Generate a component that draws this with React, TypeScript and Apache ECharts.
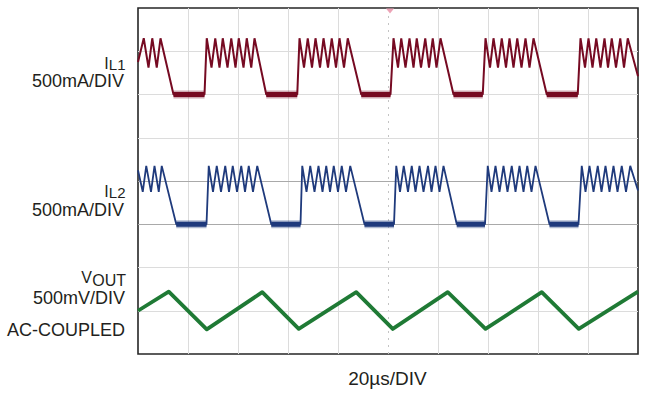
import React, { useEffect, useRef } from "react";
import * as echarts from "echarts";

// Time axis: 10 divisions of 20 µs; vertical axis: 8 screen divisions
const timeTicks = [0, 20, 40, 60, 80, 100, 120, 140, 160, 180, 200];
const divTicks = [0, 1, 2, 3, 4, 5, 6, 7, 8];
const centerTime = 100;
const darkDivLines = [3, 4];

// Zero-current levels of the two inductor traces (in screen divisions)
const il1Zero = 6.0;
const il2Zero = 3.0;

// I_L1 trace: [time µs, screen div]
const il1Points: [number, number][] = [
  [0.0, 6.75], [2.3, 7.3], [4.2, 6.62], [5.7, 7.3], [7.5, 6.62], [9.0, 7.3], [14.2, 6.0],
  [26.6, 6.0], [27.5, 7.3], [29.4, 6.62], [30.9, 7.3], [32.6, 6.62], [33.9, 7.3], [35.8, 6.62],
  [37.3, 7.3], [39.0, 6.62], [40.3, 7.3], [42.2, 6.62], [43.5, 7.3], [45.3, 6.62], [46.6, 7.3], [51.3, 6.0],
  [63.7, 6.0], [64.6, 7.3], [66.4, 6.62], [67.9, 7.3], [69.6, 6.62], [71.0, 7.3], [72.8, 6.62],
  [74.2, 7.3], [76.0, 6.62], [77.5, 7.3], [79.2, 6.62], [80.6, 7.3], [82.4, 6.62], [83.9, 7.3], [89.3, 6.0],
  [101.0, 6.0], [102.2, 7.3], [104.0, 6.62], [105.3, 7.3], [107.0, 6.62], [108.6, 7.3], [110.2, 6.62],
  [111.5, 7.3], [113.2, 6.62], [114.9, 7.3], [116.4, 6.62], [117.9, 7.3], [119.4, 6.62], [121.0, 7.3], [126.2, 6.0],
  [137.9, 6.0], [139.0, 7.3], [140.8, 6.62], [142.2, 7.3], [144.0, 6.62], [145.5, 7.3], [147.2, 6.62],
  [148.6, 7.3], [150.2, 6.62], [151.7, 7.3], [153.4, 6.62], [155.0, 7.3], [156.6, 6.62], [158.2, 7.3], [163.5, 6.0],
  [175.9, 6.0], [177.0, 7.3], [178.8, 6.62], [180.2, 7.3], [181.8, 6.62], [183.3, 7.3], [185.0, 6.62],
  [186.6, 7.3], [188.0, 6.62], [189.5, 7.3], [191.2, 6.62], [192.9, 7.3], [194.4, 6.62], [195.9, 7.3], [200.0, 6.42],
];

// I_L2 trace: [time µs, screen div]
const il2Points: [number, number][] = [
  [0.0, 4.25], [1.9, 3.75], [3.3, 4.35], [5.2, 3.75], [6.6, 4.35], [8.3, 3.75], [9.5, 4.35], [15.3, 3.0],
  [27.4, 3.0], [28.3, 4.35], [30.0, 3.75], [31.5, 4.35], [33.2, 3.75], [34.9, 4.35], [36.4, 3.75],
  [37.9, 4.35], [39.6, 3.75], [41.3, 4.35], [42.8, 3.75], [44.3, 4.35], [46.0, 3.75], [47.7, 4.35], [53.3, 3.0],
  [65.0, 3.0], [65.7, 4.35], [67.4, 3.75], [68.9, 4.35], [70.6, 3.75], [72.2, 4.35], [73.8, 3.75],
  [75.3, 4.35], [76.8, 3.75], [78.3, 4.35], [80.0, 3.75], [81.5, 4.35], [83.2, 3.75], [84.9, 4.35], [90.6, 3.0],
  [102.4, 3.0], [103.3, 4.35], [104.8, 3.75], [106.3, 4.35], [108.0, 3.75], [109.5, 4.35], [111.0, 3.75],
  [112.6, 4.35], [114.2, 3.75], [116.0, 4.35], [117.4, 3.75], [119.0, 4.35], [120.6, 3.75], [122.2, 4.35], [127.5, 3.0],
  [138.8, 3.0], [139.9, 4.35], [141.4, 3.75], [143.0, 4.35], [144.6, 3.75], [146.2, 4.35], [147.8, 3.75],
  [149.5, 4.35], [151.0, 3.75], [152.6, 4.35], [154.2, 3.75], [155.7, 4.35], [157.4, 3.75], [159.0, 4.35], [164.6, 3.0],
  [176.2, 3.0], [177.5, 4.35], [179.0, 3.75], [180.6, 4.35], [182.2, 3.75], [183.9, 4.35], [185.4, 3.75],
  [187.0, 4.35], [188.6, 3.75], [190.2, 4.35], [191.8, 3.75], [193.5, 4.35], [195.2, 3.75], [196.9, 4.35], [200.0, 3.78],
];

// V_OUT (AC-coupled) trace: [time µs, screen div]
const voutPoints: [number, number][] = [
  [0.0, 1.0], [12.3, 1.44], [27.5, 0.57], [49.7, 1.43], [64.3, 0.58], [87.3, 1.43], [101.9, 0.58],
  [123.9, 1.43], [139.0, 0.58], [161.5, 1.43], [176.3, 0.58], [200.0, 1.44],
];

const FONT = "'Liberation Sans', Arial, Helvetica, sans-serif";
const TEXT_COLOR = "#231f20";
const IL1_COLOR = "#760a22";
const IL2_COLOR = "#1f3a7c";
const VOUT_COLOR = "#1f7a35";

// Zero-current (noisy) stretches: [startTime, endTime, level]
function flatSegments(points: [number, number][], level: number) {
  const out: [number, number, number][] = [];
  for (let i = 0; i < points.length - 1; i++) {
    if (points[i][1] === level && points[i + 1][1] === level) {
      out.push([points[i][0], points[i + 1][0], level]);
    }
  }
  return out;
}

function txt(text: string, x: number, y: number, size: number, lineHeight: number, align: string = "right") {
  return {
    type: "text",
    x,
    y,
    silent: true,
    style: {
      text,
      fontSize: size,
      lineHeight,
      fontFamily: FONT,
      fill: TEXT_COLOR,
      align,
      verticalAlign: "middle",
    },
  };
}

function bandSeries(name: string, points: [number, number][], level: number, color: string) {
  return {
    type: "custom",
    name,
    silent: true,
    animation: false,
    z: 3,
    data: flatSegments(points, level),
    encode: { x: [0, 1], y: 2 },
    renderItem: (_params: any, api: any) => {
      const p0 = api.coord([api.value(0), api.value(2)]);
      const p1 = api.coord([api.value(1), api.value(2)]);
      return {
        type: "group",
        children: [
          {
            type: "rect",
            shape: { x: p0[0], y: p0[1] - 4, width: p1[0] - p0[0], height: 8 },
            style: { fill: color, opacity: 0.35 },
          },
          {
            type: "rect",
            shape: { x: p0[0], y: p0[1] - 2.5, width: p1[0] - p0[0], height: 5 },
            style: { fill: color },
          },
        ],
      };
    },
  };
}

export default function App() {
  const ref = useRef<HTMLDivElement>(null);

  useEffect(() => {
    if (!ref.current) return;
    const chart = echarts.init(ref.current, undefined, { renderer: "svg" });

    const gridLines: any[] = [];
    timeTicks
      .filter((t) => t !== timeTicks[0] && t !== timeTicks[timeTicks.length - 1])
      .forEach((t) => {
        gridLines.push({
          xAxis: t,
          lineStyle:
            t === centerTime
              ? { color: "#c4c4c4", width: 1, type: [2, 5] }
              : { color: "#dcdcdc", width: 1, type: "solid" },
        });
      });
    divTicks
      .filter((d) => d !== divTicks[0] && d !== divTicks[divTicks.length - 1])
      .forEach((d) => {
        gridLines.push({
          yAxis: d,
          lineStyle: {
            color: darkDivLines.includes(d) ? "#a9a9a9" : "#dcdcdc",
            width: 1,
            type: "solid",
          },
        });
      });

    const traceBase = {
      type: "line",
      showSymbol: false,
      symbol: "none",
      silent: true,
      animation: false,
    };

    chart.setOption({
      animation: false,
      backgroundColor: "#ffffff",
      grid: {
        left: 138,
        top: 8,
        width: 500,
        height: 346,
        show: true,
        borderColor: "#262626",
        borderWidth: 1.6,
        backgroundColor: "#ffffff",
      },
      xAxis: {
        type: "value",
        min: 0,
        max: 200,
        interval: 20,
        axisLine: { show: false },
        axisTick: { show: false },
        axisLabel: { show: false },
        splitLine: { show: false },
      },
      yAxis: {
        type: "value",
        min: 0,
        max: 8,
        interval: 1,
        axisLine: { show: false },
        axisTick: { show: false },
        axisLabel: { show: false },
        splitLine: { show: false },
      },
      series: [
        {
          ...traceBase,
          name: "grid",
          data: [],
          z: 1,
          markLine: {
            z: 1,
            silent: true,
            symbol: ["none", "none"],
            label: { show: false },
            animation: false,
            data: gridLines,
          },
          markPoint: {
            z: 2,
            silent: true,
            animation: false,
            symbol: "triangle",
            symbolRotate: 180,
            symbolSize: [8, 5],
            symbolOffset: [2, 3],
            label: { show: false },
            itemStyle: { color: "#eca3b6" },
            data: [{ coord: [centerTime, divTicks[divTicks.length - 1]] }],
          },
        },
        bandSeries("IL1 zero band", il1Points, il1Zero, IL1_COLOR),
        {
          ...traceBase,
          name: "IL1",
          data: il1Points,
          z: 4,
          lineStyle: { color: IL1_COLOR, width: 2 },
        },
        bandSeries("IL2 zero band", il2Points, il2Zero, IL2_COLOR),
        {
          ...traceBase,
          name: "IL2",
          data: il2Points,
          z: 4,
          lineStyle: { color: IL2_COLOR, width: 1.8 },
        },
        {
          ...traceBase,
          name: "VOUT",
          data: voutPoints,
          z: 4,
          lineStyle: { color: VOUT_COLOR, width: 3.8, join: "round" },
        },
      ],
      graphic: [
        txt("I", 108.6, 63, 16, 11),
        txt("L1", 125.5, 64.4, 15, 10),
        txt("500mA/DIV", 124, 81.2, 18, 13),
        txt("I", 108.6, 191.5, 16, 11),
        txt("L2", 125.5, 192.9, 15, 10),
        txt("500mA/DIV", 124, 209.7, 18, 13),
        txt("V", 91.8, 277, 16, 11),
        txt("OUT", 126, 280.2, 16, 11),
        txt("500mV/DIV", 125, 297.7, 18, 13),
        txt("AC-COUPLED", 125, 329.5, 18, 13),
        txt("20µs/DIV", 387.5, 378.7, 19, 19, "center"),
      ],
    });

    return () => chart.dispose();
  }, []);

  return (
    <div
      ref={ref}
      style={{ position: "fixed", left: 0, top: 0, width: 655, height: 394, background: "#fff" }}
    />
  );
}
